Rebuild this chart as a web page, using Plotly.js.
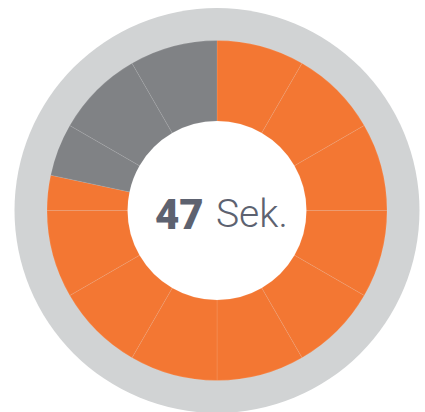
<!DOCTYPE html>
<html>
<head>
<meta charset="utf-8">
<script src="https://cdn.plot.ly/plotly-3.0.1.min.js"></script>
<style>html,body{margin:0;padding:0;background:#fff;}#chart{width:425px;height:412px;}</style>
</head>
<body>
<div id="chart"></div>
<script>
// Stopwatch segments, in seconds, clockwise from 12 o'clock
var segmentLabels = ["0-5","5-10","10-15","15-20","20-25","25-30","30-35","35-40","40-45","45-47","47-50","50-55","55-60"];
var segmentSeconds = [5,5,5,5,5,5,5,5,5,2,3,5,5];
var segmentState = ["done","done","done","done","done","done","done","done","done","done","left","left","left"];
var centerValue = "47";
var centerUnit = "Sek.";

var stateColors = {done: "#f37733", left: "#808285"};
var colors = segmentState.map(function(s){ return stateColors[s]; });

var W = 425, H = 412;
var cx = 217, cy = 210.5, r = 170, rOuter = 202.5, hole = 0.526;
var rHole = r * hole;

function circ(rad, fill) {
  return {
    type: "circle", xref: "paper", yref: "paper", layer: "below",
    x0: (cx - rad) / W, x1: (cx + rad) / W,
    y0: (H - cy - rad) / H, y1: (H - cy + rad) / H,
    fillcolor: fill, line: {width: 0}
  };
}

var data = [{
  type: "pie",
  labels: segmentLabels,
  values: segmentSeconds,
  sort: false,
  direction: "clockwise",
  rotation: 0,
  hole: hole,
  textinfo: "none",
  hoverinfo: "label+value",
  showlegend: false,
  marker: {colors: colors, line: {color: "rgba(255,255,255,0.2)", width: 0.5}},
  domain: {x: [(cx - r) / W, (cx + r) / W], y: [(H - cy - r) / H, (H - cy + r) / H]}
}];

var fontFam = "Roboto, sans-serif";
var layout = {
  width: W, height: H,
  margin: {l: 0, r: 0, t: 0, b: 0},
  paper_bgcolor: "#ffffff",
  showlegend: false,
  shapes: [circ(rOuter, "#d1d3d4"), circ(rHole + 1, "#ffffff")],
  annotations: [{
    xref: "paper", yref: "paper",
    x: 206 / W, y: (H - 214) / H,
    xanchor: "right", yanchor: "middle",
    showarrow: false,
    text: centerValue,
    font: {family: fontFam, size: 42, weight: 900, color: "#5d6270"}
  }, {
    xref: "paper", yref: "paper",
    x: 214 / W, y: (H - 214) / H,
    xanchor: "left", yanchor: "middle",
    showarrow: false,
    text: centerUnit,
    font: {family: fontFam, size: 39, weight: 300, color: "#5d6270"}
  }]
};

Plotly.newPlot("chart", data, layout, {displayModeBar: false, staticPlot: true});
</script>
</body>
</html>
